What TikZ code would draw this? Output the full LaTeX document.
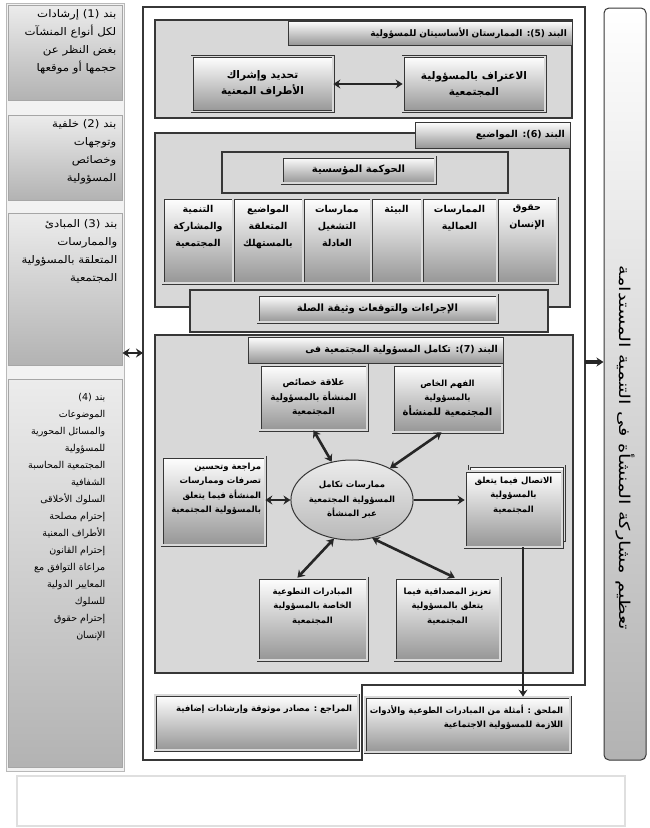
\documentclass[tikz,border=0pt]{standalone}
\usepackage{fontspec}
\usepackage{tikz}
\usetikzlibrary{arrows.meta, positioning, calc, shapes.geometric}
\TeXXeTstate=1
\newfontfamily\arabicfont[Script=Arabic]{DejaVu Sans}
\newfontfamily\sidefont[Script=Arabic, FakeStretch=1.12]{DejaVu Sans}
\newfontfamily\goalfont[Script=Arabic, FakeStretch=1.3]{DejaVu Sans}
\newcommand{\rl}[1]{\beginR #1\endR}
\definecolor{PanelGray}{RGB}{216,216,216}
\definecolor{EdgeGray}{RGB}{55,55,55}
\definecolor{ShadeGray}{RGB}{150,150,150}

\tikzset{
	frameline/.style={draw=EdgeGray, line width=1.2pt},
	panel/.style={draw=EdgeGray, line width=1.3pt, fill=PanelGray},
	tabbox/.style={draw=EdgeGray, line width=1pt, top color=white, bottom color=ShadeGray,
		inner sep=5pt, align=right, font=\arabicfont\bfseries\fontsize{9.5}{11}\selectfont},
	itembox/.style={draw=EdgeGray, double=gray!30, double distance=1.6pt, line width=0.7pt,
		top color=white, bottom color=ShadeGray, inner sep=0pt, align=center,
		font=\arabicfont\bfseries\fontsize{8.5}{14.5}\selectfont},
	holdbox/.style={draw=EdgeGray, line width=1.4pt, fill=PanelGray},
	sidebox/.style={draw=gray!70, line width=1pt, top color=gray!15, bottom color=gray!60},
	goalbox/.style={draw=EdgeGray, line width=1pt, rounded corners=5pt, top color=white, bottom color=gray!60},
	sidetext/.style={font=\sidefont\fontsize{10.5}{18}\selectfont, align=right, inner sep=0pt},
	itemtext/.style={font=\arabicfont\bfseries\fontsize{8.5}{14.5}\selectfont, align=center, inner sep=0pt},
	dblarrow/.style={{Stealth[length=7pt,width=9pt]}-{Stealth[length=7pt,width=9pt]}, line width=2.6pt, black!85},
	onearrow/.style={-{Stealth[length=7pt,width=9pt]}, line width=2.6pt, black!85},
}

\begin{document}
\begin{tikzpicture}[x=1pt, y=-1pt]
	\useasboundingbox (0,0) rectangle (649,828);
	% columna izquierda: los cuatro bandos
	\draw[gray!55, fill=gray!10] (6,3) rectangle (124,771);
	\foreach \ya/\yb [count=\k] in {5/100, 115/200, 213/365, 379/767}{
		\node[sidebox, minimum width=114, minimum height={\yb-\ya}] (side\k) at (65,{(\ya+\yb)/2}) {};
	}
	\node[sidetext, below left=5pt and 6pt of side1.north east] (item1)
		{\rl{بند (1) إرشادات}\\\rl{لكل أنواع المنشآت}\\\rl{بغض النظر عن}\\\rl{حجمها أو موقعها}};
	\node[sidetext, below left=5pt and 6pt of side2.north east] (item2)
		{\rl{بند (2) خلفية}\\\rl{وتوجهات}\\\rl{وخصائص}\\\rl{المسؤولية}};
	\node[sidetext, below left=7pt and 5pt of side3.north east] (item3)
		{\rl{بند (3) المبادئ}\\\rl{والممارسات}\\\rl{المتعلقة بالمسؤولية}\\\rl{المجتمعية}};
	\node[sidetext, font=\arabicfont\fontsize{9.5}{17}\selectfont, below left=15pt and 17pt of side4.north east] (item4)
		{\rl{بند (4)}\\\rl{الموضوعات}\\\rl{والمسائل المحورية}\\\rl{للمسؤولية}\\\rl{المجتمعية المحاسبة}\\
		 \rl{الشفافية}\\\rl{السلوك الأخلاقى}\\\rl{إحترام مصلحة}\\\rl{الأطراف المعنية}\\\rl{إحترام القانون}\\
		 \rl{مراعاة التوافق مع}\\\rl{المعايير الدولية}\\\rl{للسلوك}\\\rl{إحترام حقوق}\\\rl{الإنسان}};

	% marco central
	\draw[frameline] (143,7) -- (585,7) -- (585,685) -- (362,685) -- (362,760) -- (143,760) -- cycle;

	% bando 5
	\draw[panel] (155,20) rectangle (572,118);
	\node[tabbox, font=\arabicfont\bfseries\fontsize{9}{11}\selectfont, minimum height=24, text width=274] (tab5) at (430,33)
		{\rl{البند (5):  الممارستان الأساسيتان للمسؤولية}};
	\node[itembox, font=\arabicfont\bfseries\fontsize{10.5}{16}\selectfont, minimum width=141, minimum height=55] (ident) at (262.5,84)
		{\rl{تحديد وإشراك}\\\rl{الأطراف المعنية}};
	\node[itembox, font=\arabicfont\bfseries\fontsize{10.5}{16}\selectfont, minimum width=142, minimum height=55] (recog) at (474,84)
		{\rl{الاعتراف بالمسؤولية}\\\rl{المجتمعية}};
	\draw[dblarrow] (ident) -- (recog);

	% bando 6
	\draw[panel] (155,133) rectangle (570,307);
	\node[tabbox, minimum height=26, text width=145] (tab6) at (492.5,135) {\rl{البند (6): المواضيع}};
	\node[holdbox, minimum width=286, minimum height=41] (govframe) at (365,172.5) {};
	\node[itembox, font=\arabicfont\bfseries\fontsize{10}{12}\selectfont, minimum width=153, minimum height=26] (gov) at (358.5,170)
		{\rl{الحوكمة المؤسسية}};
	\foreach \xa/\xb/\lines [count=\k] in {
		163/233/{\rl{التنمية}\\\rl{والمشاركة}\\\rl{المجتمعية}},
		233/303/{\rl{المواضيع}\\\rl{المتعلقة}\\\rl{بالمستهلك}},
		303/371/{\rl{ممارسات}\\\rl{التشغيل}\\\rl{العادلة}},
		371/422/{\rl{البيئة}},
		422/497/{\rl{الممارسات}\\\rl{العمالية}},
		497/557/{\rl{حقوق}\\\rl{الإنسان}}}{
		\node[itembox, minimum width={\xb-\xa}, minimum height=85] (col\k) at ({(\xa+\xb)/2},240.5) {};
		\node[itemtext, font=\arabicfont\bfseries\fontsize{9.5}{17}\selectfont, below=7pt of col\k.north] (colt\k) {\lines};
	}
	\node[holdbox, minimum width=358, minimum height=42] (procframe) at (369,311) {};
	\node[itembox, font=\arabicfont\bfseries\fontsize{10}{12}\selectfont, minimum width=239, minimum height=27] (proc) at (377.5,308.5)
		{\rl{الإجراءات والتوقعات وثيقة الصلة}};

	% bando 7
	\draw[panel] (155,335) rectangle (573,673);
	\node[tabbox, minimum height=26, text width=245] (tab7) at (375.5,350)
		{\rl{البند (7):  تكامل المسؤولية المجتمعية فى}};
	\node[itembox, font=\arabicfont\bfseries\fontsize{9}{14.5}\selectfont, minimum width=107, minimum height=65] (rel) at (313.5,397.5)
		{\rl{علاقة خصائص}\\\rl{المنشأة بالمسؤولية}\\\rl{المجتمعية}};
	\node[itembox, minimum width=109, minimum height=67] (fahm) at (447.5,398.5)
		{\rl{الفهم الخاص}\\\rl{بالمسؤولية}\\{\fontsize{10}{14.5}\selectfont\rl{المجتمعية للمنشأة}}};
	\node[itembox, minimum width=103, minimum height=88] (rev) at (213.5,501) {};
	\node[itemtext, align=right, below left=6pt and 4pt of rev.north east] (revt)
		{\rl{مراجعة وتحسين}\\\rl{تصرفات وممارسات}\\\rl{المنشأة فيما يتعلق}\\\rl{بالمسؤولية المجتمعية}};
	\node[ellipse, draw=EdgeGray, line width=1pt, top color=gray!15, bottom color=gray!55,
		minimum width=116, minimum height=80, itemtext] (ell) at (352,500)
		{\rl{ممارسات تكامل}\\\rl{المسؤولية المجتمعية}\\\rl{عبر المنشأة}};
	\node[itembox, minimum width=95, minimum height=74] (commback) at (517,503) {};
	\node[itembox, minimum width=97, minimum height=76] (comm) at (513.5,509) {};
	\node[itemtext, below=6pt of comm.north] (commt)
		{\rl{الاتصال فيما يتعلق}\\\rl{بالمسؤولية}\\\rl{المجتمعية}};
	\node[itembox, minimum width=109, minimum height=82] (init) at (312.5,619) {};
	\node[itemtext, below=10pt of init.north] (initt)
		{\rl{المبادرات التطوعية}\\\rl{الخاصة بالمسؤولية}\\\rl{المجتمعية}};
	\node[itembox, minimum width=105, minimum height=82] (tz) at (447.5,619) {};
	\node[itemtext, below=10pt of tz.north] (tzt)
		{\rl{تعزيز المصداقية فيما}\\\rl{يتعلق بالمسؤولية}\\\rl{المجتمعية}};
	\draw[dblarrow] (ell.118) -- (rel.south);
	\draw[dblarrow] (ell.40) -- (fahm.260);
	\draw[dblarrow] (ell.west) -- (ell.west -| rev.east);
	\draw[onearrow] (ell.east) -- (ell.east -| comm.west);
	\draw[dblarrow] (ell.245) -- (init.110);
	\draw[dblarrow] (ell.298) -- (tz.80);

	% referencias y anexo
	\node[itembox, minimum width=203, minimum height=55] (refs) at (256.5,722.5) {};
	\node[itemtext, align=right, below left=10pt and 6pt of refs.north east] (refst)
		{\rl{المراجع : مصادر موثوقة وإرشادات إضافية}};
	\node[itembox, minimum width=205, minimum height=55] (annex) at (467.5,724.5) {};
	\node[itemtext, align=right, below left=8pt and 7pt of annex.north east] (annext)
		{\rl{الملحق : أمثلة من المبادرات الطوعية والأدوات}\\\rl{اللازمة للمسؤولية الاجتماعية}};
	\coordinate (drop) at (523,547);
	\draw[onearrow, line width=1.6pt] (drop) -- (drop |- annex.north);

	% columna derecha
	\node[goalbox, minimum width=42, minimum height=752] (goalbox) at (625,384) {};
	\node[font=\goalfont\fontsize{15}{17}\selectfont, rotate=-90, inner sep=0pt] (goal) at (625,448)
		{\rl{تعظيم مشاركة المنشأة فى التنمية المستدامة}};
	\coordinate (fl) at (143,353);
	\draw[dblarrow] (fl) -- (fl -| side3.east);
	\coordinate (fr) at (585,362);
	\draw[onearrow, line width=3.2pt] (fr) -- (fr -| goalbox.west);

	% recuadro vacio inferior
	\draw[gray!25, line width=1.2pt] (17,776) rectangle (625,826);
\end{tikzpicture}
\end{document}
